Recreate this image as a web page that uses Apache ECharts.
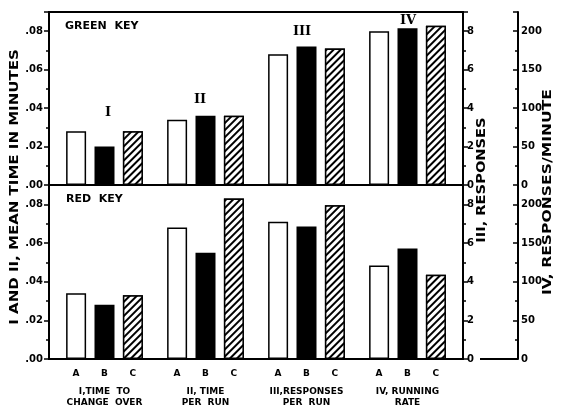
<!DOCTYPE html>
<html>
<head>
<meta charset="utf-8">
<script src="https://cdn.jsdelivr.net/npm/echarts@6/dist/echarts.min.js"></script>
<style>
  html, body { margin: 0; padding: 0; background: #fff; }
  #chart { width: 561px; height: 405px; }
</style>
</head>
<body>
<div id="chart"></div>
<script>
// bar names and measure groups
const bars = ['A', 'B', 'C'];
const measures = ['I,TIME  TO\nCHANGE  OVER', 'II, TIME\nPER  RUN', 'III,RESPONSES\nPER  RUN', 'IV, RUNNING\nRATE'];
const numerals = ['I', 'II', 'III', 'IV'];

// green key, values for A, B, C
const greenTimeToChange = [0.028, 0.020, 0.028];
const greenTimePerRun = [0.034, 0.036, 0.036];
const greenResponsesPerRun = [6.8, 7.2, 7.1];
const greenRunningRate = [200, 204, 207];

// red key, values for A, B, C
const redTimeToChange = [0.034, 0.028, 0.033];
const redTimePerRun = [0.068, 0.055, 0.083];
const redResponsesPerRun = [7.1, 6.85, 7.95];
const redRunningRate = [121, 143, 109];

// axis ranges: time (min), responses, responses/minute
const timeMax = 0.09, timeStep = 0.02;
const respMax = 9, respStep = 2;
const rateMax = 225, rateStep = 50;

const ink = '#000';
const FONT = 'DejaVu Sans';

const chart = echarts.init(document.getElementById('chart'), null, { renderer: 'canvas' });

function valueAxis(grid, max, step, pos, offset, inside, margin, fmt, visible) {
  return {
    type: 'value', gridIndex: grid, min: 0, max: max, interval: step,
    position: pos, offset: offset, show: visible,
    splitLine: { show: false },
    axisLine: { show: true, lineStyle: { color: ink, width: 2 } },
    axisTick: { show: true, inside: inside, length: 5, lineStyle: { color: ink, width: 1.5 } },
    minorTick: { show: true, splitNumber: 2, length: 3, lineStyle: { color: ink, width: 1.5 } },
    axisLabel: {
      margin: margin, showMaxLabel: false, formatter: fmt, color: ink,
      fontFamily: FONT, fontWeight: 'bold', fontSize: 10
    }
  };
}

const fmtTime = v => v.toFixed(2).replace(/^0/, '');
const fmtInt = v => String(Math.round(v));

// frame grids 0,1 carry the visible axes; bar grids 2,3 carry the bars
const gridBase = { containLabel: false, outerBoundsMode: 'none' };
const grids = [
  { left: 49, top: 12, width: 414, height: 173, show: true, borderColor: ink, borderWidth: 2 },
  { left: 49, top: 185, width: 414, height: 174, show: true, borderColor: ink, borderWidth: 2 },
  { left: 54, top: 12, width: 404, height: 173 },
  { left: 54, top: 185, width: 404, height: 174 }
].map(g => Object.assign({}, gridBase, g));

const xAxes = [0, 1, 2, 3].map(g => ({
  type: 'category', gridIndex: g, data: measures, show: g === 3,
  axisLine: { show: false }, axisTick: { show: false },
  axisLabel: {
    margin: 27, color: ink, fontFamily: FONT, fontWeight: 'bold', fontSize: 9, lineHeight: 11
  }
}));

const yAxes = [];
[0, 1, 2, 3].forEach(g => {
  const vis = g < 2;
  yAxes.push(valueAxis(g, timeMax, timeStep, 'left', 0, false, 6, fmtTime, vis));
  yAxes.push(valueAxis(g, respMax, respStep, 'right', 0, false, 4, fmtInt, vis));
  yAxes.push(valueAxis(g, rateMax, rateStep, 'right', 55, true, 3, fmtInt, vis));
});

const barStyles = [
  { color: '#fff', borderColor: ink, borderWidth: 1.5 },
  { color: ink, borderColor: ink, borderWidth: 1.5 },
  {
    color: '#fff', borderColor: ink, borderWidth: 1.5,
    decal: {
      symbol: 'rect', symbolSize: 1, color: ink, backgroundColor: '#fff',
      dashArrayX: [1, 0], dashArrayY: [2, 3], rotation: -Math.PI / 4
    }
  }
];

function panelSeries(p, time1, time2, resp, rate) {
  const out = [];
  bars.forEach((name, j) => {
    const rows = [
      [time1[j], time2[j], null, null],
      [null, null, resp[j], null],
      [null, null, null, rate[j]]
    ];
    rows.forEach((data, k) => {
      out.push({
        type: 'bar', name: name, data: data,
        xAxisIndex: 2 + p, yAxisIndex: 6 + p * 3 + k,
        stack: 'p' + p + name, barWidth: 20, barGap: '42%',
        itemStyle: barStyles[j], silent: true,
        label: {
          show: p === 1, position: 'bottom', distance: 10, formatter: name,
          color: ink, fontFamily: FONT, fontWeight: 'bold', fontSize: 9
        }
      });
    });
  });
  return out;
}

const series = panelSeries(0, greenTimeToChange, greenTimePerRun, greenResponsesPerRun, greenRunningRate)
  .concat(panelSeries(1, redTimeToChange, redTimePerRun, redResponsesPerRun, redRunningRate));

function label(text, x, y, opts) {
  return Object.assign({
    type: 'text', x: x, y: y, silent: true,
    style: {
      text: text, fill: ink, align: 'center', verticalAlign: 'middle',
      font: 'bold 12px "' + FONT + '"'
    }
  }, opts || {});
}

function keyLabel(text, x, y) {
  return label(text, x, y, {
    style: { text: text, fill: ink, align: 'left', verticalAlign: 'middle', font: 'bold 11px "' + FONT + '"' }
  });
}

const numeralPos = [[108, 113], [200, 100], [302, 32], [408, 21]];
const graphic = [
  label('I AND II, MEAN TIME IN MINUTES', 15, 187, { rotation: Math.PI / 2, scaleX: 1.25 }),
  label('III, RESPONSES', 482, 180, { rotation: Math.PI / 2, scaleX: 1.22 }),
  label('IV, RESPONSES/MINUTE', 548, 192, { rotation: Math.PI / 2, scaleX: 1.3 }),
  keyLabel('GREEN  KEY', 65, 26),
  keyLabel('RED  KEY', 66, 199),
  { type: 'line', silent: true, shape: { x1: 480, y1: 359, x2: 518, y2: 359 }, style: { stroke: ink, lineWidth: 2 } }
].concat(numerals.map((n, i) => label(n, numeralPos[i][0], numeralPos[i][1], {
  style: { text: n, fill: ink, align: 'center', verticalAlign: 'middle', font: 'bold 13px "DejaVu Serif"' }
})));

chart.setOption({
  animation: false,
  backgroundColor: '#fff',
  grid: grids,
  xAxis: xAxes,
  yAxis: yAxes,
  series: series,
  graphic: graphic
});
</script>
</body>
</html>
